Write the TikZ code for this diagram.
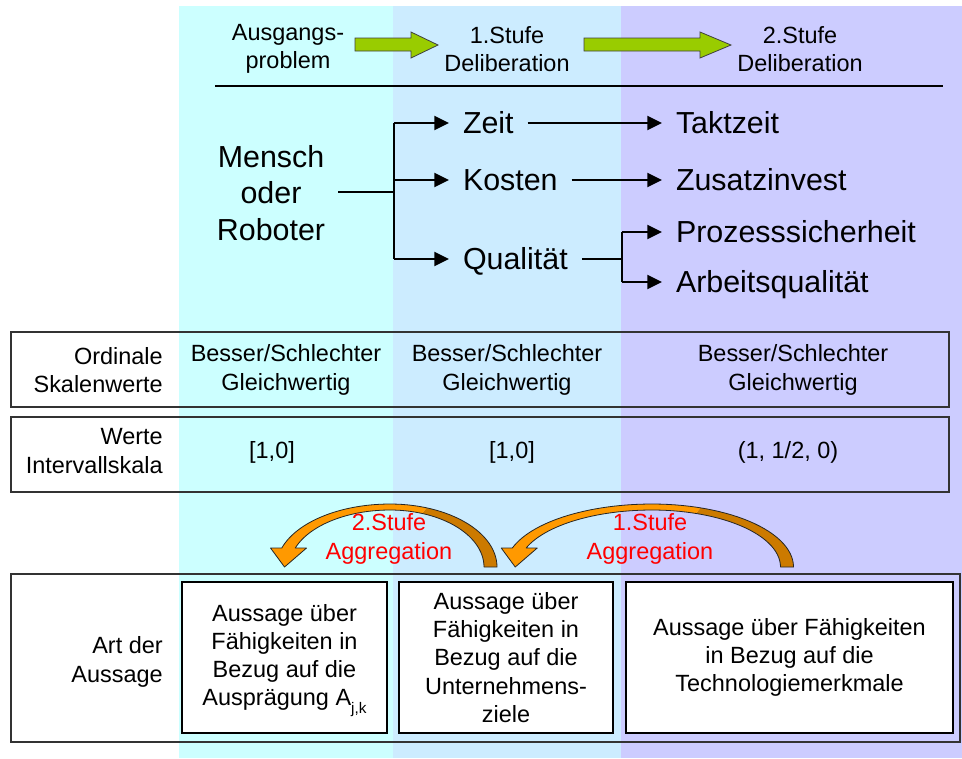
\documentclass[tikz,border=0pt]{standalone}
\usepackage{fontspec}
\setmainfont{Liberation Sans}
\usetikzlibrary{arrows.meta,calc}
\definecolor{cyanbg}{HTML}{CCFFFF}
\definecolor{bluebg}{HTML}{CCECFF}
\definecolor{lavbg}{HTML}{CCCCFF}
\definecolor{greenarr}{HTML}{99CC00}
\definecolor{orangearr}{HTML}{FF9900}
\definecolor{darkarr}{HTML}{CC7A00}
\definecolor{framegray}{HTML}{333333}
\definecolor{aggred}{HTML}{FF0000}
\newcommand\smf{\fontsize{17.6}{21.2}\selectfont}
\newcommand\bigf{\fontsize{22.8}{27.4}\selectfont}
% curved aggregation arrow: #1 centre x, #2 left mid radius, #3 right mid radius
\newcommand\aggarrow[3]{%
  \fill[darkarr] plot[domain=0:70,variable=\t,samples=25] ({#1+(#3+6.5)*cos(\t)},{567-63*sin(\t)})
     -- plot[domain=70:0,variable=\t,samples=25] ({#1+(#3-6.5)*cos(\t)},{567-57*sin(\t)}) -- cycle;
  \fill[orangearr] plot[domain=70:90,variable=\t,samples=10] ({#1+(#3+6.5)*cos(\t)},{567-63*sin(\t)})
     -- plot[domain=90:162.45,variable=\t,samples=30] ({#1+(#2+6.5)*cos(\t)},{567-63*sin(\t)})
     -- plot[domain=160.53:90,variable=\t,samples=30] ({#1+(#2-6.5)*cos(\t)},{567-57*sin(\t)})
     -- plot[domain=90:70,variable=\t,samples=10] ({#1+(#3-6.5)*cos(\t)},{567-57*sin(\t)}) -- cycle;
  \fill[orangearr] ({#1-0.9483*#2-18},548) -- ({#1-0.9483*#2-4},567) -- ({#1-0.9483*#2+18},548) -- cycle;
  \draw[black!85, line width=0.6pt, line join=round]
     plot[domain=0:90,variable=\t,samples=30] ({#1+(#3+6.5)*cos(\t)},{567-63*sin(\t)})
     -- plot[domain=90:162.45,variable=\t,samples=30] ({#1+(#2+6.5)*cos(\t)},{567-63*sin(\t)})
     -- ({#1-0.9483*#2-18},548) -- ({#1-0.9483*#2-4},567) -- ({#1-0.9483*#2+18},548)
     -- plot[domain=160.53:90,variable=\t,samples=30] ({#1+(#2-6.5)*cos(\t)},{567-57*sin(\t)})
     -- plot[domain=90:0,variable=\t,samples=30] ({#1+(#3-6.5)*cos(\t)},{567-57*sin(\t)}) -- cycle;
}
% green block arrow: #1 start x, #2 head base x, #3 tip x
\newcommand\greenarrow[3]{%
  \filldraw[fill=greenarr, draw=black!75, line width=0.6pt, line join=miter]
    (#1,38) -- (#2,38) -- (#2,32) -- (#3,45) -- (#2,58) -- (#2,51) -- (#1,51) -- cycle;
}
\tikzset{
  x=0.75pt, y=-0.75pt,
  hdr/.style={font=\smf, align=center, inner sep=0pt},
  sm/.style={font=\smf, align=center, inner sep=0pt},
  rowlabel/.style={font=\smf, align=right, inner sep=0pt, anchor=east},
  bigtxt/.style={font=\bigf, inner sep=0pt, outer sep=0pt, text height=16.3pt, text depth=0pt, anchor=west},
  treeline/.style={line width=1.5pt, black},
  treearrow/.style={line width=1.5pt, black, -{Triangle[length=11pt,width=10.5pt]}},
  rowbox/.style={draw=framegray, line width=1.2pt},
  stmtbox/.style={draw=black, line width=0.9pt, fill=white, font=\smf, align=center, inner sep=0pt},
  aggtext/.style={font=\smf, align=center, inner sep=0pt, text=aggred},
}
\begin{document}
\begin{tikzpicture}
\useasboundingbox (0,0) rectangle (962,758);
% column backgrounds
\fill[cyanbg] (179,6) rectangle (393,758);
\fill[bluebg] (393,6) rectangle (621,758);
\fill[lavbg] (621,6) rectangle (962,758);

% header
\node[hdr] (ausg) at (288,49) {Ausgangs-\\problem};
\node[hdr] (stufeA) at (507,49) {1.Stufe\\Deliberation};
\node[hdr] (stufeB) at (800,49) {2.Stufe\\Deliberation};
\greenarrow{355}{411}{438}
\greenarrow{584}{700}{731}
\coordinate (hlA) at (215,86);
\coordinate (hlB) at (943,86);
\draw[black, line width=0.8pt] (hlA) -- (hlB);

% tree
\node[font=\bigf, align=center, inner sep=0pt] (mensch) at (271,193) {Mensch\\oder\\Roboter};
\node[bigtxt] (zeit) at (463,123) {Zeit};
\node[bigtxt] (kosten) at (463,180) {Kosten};
\node[bigtxt] (quali) at (463,259) {Qualität};
\node[bigtxt] (takt) at (676,123) {Taktzeit};
\node[bigtxt] (zusatz) at (676,180) {Zusatzinvest};
\node[bigtxt] (proz) at (676,232) {Prozesssicherheit};
\node[bigtxt] (arb) at (676,282) {Arbeitsqualität};

\coordinate (m0) at (338,192);
\coordinate (j1) at (394,192);
\coordinate (j2) at (622,259);
\draw[treeline] (m0) -- (j1);
\draw[treeline] (j1 |- zeit.west) -- (j1 |- quali.west);
\draw[treearrow] (j1 |- zeit.west) -- ([xshift=-10.5pt]zeit.west);
\draw[treearrow] (j1 |- kosten.west) -- ([xshift=-10.5pt]kosten.west);
\draw[treearrow] (j1 |- quali.west) -- ([xshift=-10.5pt]quali.west);
\draw[treearrow, shorten <=10.5pt, shorten >=10.5pt] (zeit.east) -- (takt.west);
\draw[treearrow, shorten <=10.5pt, shorten >=10.5pt] (kosten.east) -- (zusatz.west);
\draw[treeline, shorten <=10.5pt] (quali.east) -- (j2);
\draw[treeline] (j2 |- proz.west) -- (j2 |- arb.west);
\draw[treearrow] (j2 |- proz.west) -- ([xshift=-10.5pt]proz.west);
\draw[treearrow] (j2 |- arb.west) -- ([xshift=-10.5pt]arb.west);

% row 1
\draw[rowbox] (11,332) rectangle (949,407);
\node[rowlabel] (ordl) at (163,370) {Ordinale\\Skalenwerte};
\node[sm] (ordA) at (286,370) {Besser/Schlechter\\Gleichwertig};
\node[sm] (ordB) at (507,370) {Besser/Schlechter\\Gleichwertig};
\node[sm] (ordC) at (793,370) {Besser/Schlechter\\Gleichwertig};

% row 2
\draw[rowbox] (11,417) rectangle (949,492);
\node[rowlabel] (wertl) at (163,451) {Werte\\Intervallskala};
\node[sm] (wertA) at (272,452) {[1,0]};
\node[sm] (wertB) at (512,452) {[1,0]};
\node[sm] (wertC) at (788,452) {(1, 1/2, 0)};

% aggregation arrows
\aggarrow{652}{140}{135}
\aggarrow{390}{107}{100.5}
\node[aggtext] (aggB) at (389,539) {2.Stufe\\Aggregation};
\node[aggtext] (aggA) at (650,539) {1.Stufe\\Aggregation};

% row 3
\draw[rowbox] (11,574) rectangle (960,742);
\node[rowlabel] (artl) at (163,662) {Art der\\Aussage};
\node[stmtbox, minimum width=153.75pt, minimum height=113.25pt] (boxA) at (284.5,657.5)
  {Aussage über\\Fähigkeiten in\\Bezug auf die\\Ausprägung A\raisebox{-6pt}[0pt][0pt]{\fontsize{11.5}{12}\selectfont j,k}};
\node[stmtbox, minimum width=160.5pt, minimum height=113.25pt] (boxB) at (506,657.5)
  {Aussage über\\Fähigkeiten in\\Bezug auf die\\Unternehmens-\\ziele};
\node[stmtbox, minimum width=245.25pt, minimum height=113.25pt] (boxC) at (789.5,657.5)
  {Aussage über Fähigkeiten\\in Bezug auf die\\Technologiemerkmale};
\end{tikzpicture}
\end{document}
